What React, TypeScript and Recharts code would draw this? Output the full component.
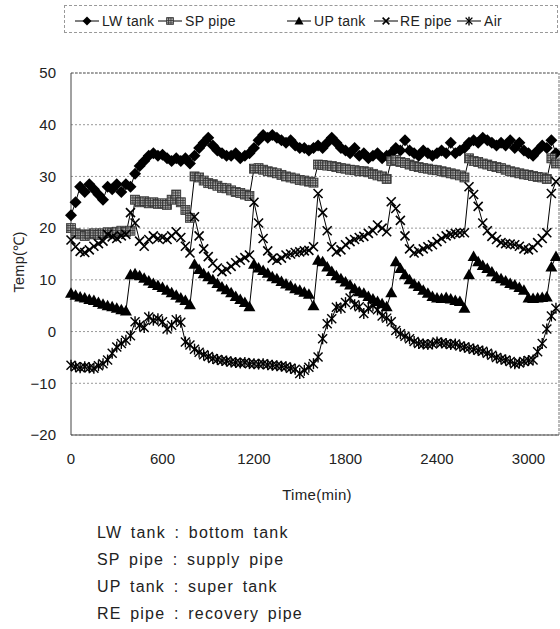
import React from "react";
import {
  LineChart,
  Line,
  XAxis,
  YAxis,
  CartesianGrid,
  ReferenceLine,
} from "recharts";

// sampling grid: one reading every 30 min, 0 .. 3180
const TIMES = Array.from({ length: 107 }, (_, i) => i * 30);
const X_TICKS = [0, 600, 1200, 1800, 2400, 3000];
const Y_TICKS = [-20, -10, 0, 10, 20, 30, 40, 50];

const LW_TANK = [
  22.5, 25, 28, 27, 28.5, 27.5, 26.5, 25.5, 28, 27.5,
  28.5, 27, 28.5, 28, 30.5, 32, 33, 34, 34.5, 34,
  34.2, 33.5, 33, 33.5, 33, 33.5, 32.5, 34, 35.5, 36.5,
  37.5, 36, 35, 34.5, 34, 34, 34.5, 33.5, 34, 34.5,
  35.5, 37, 38, 37.5, 38, 37.5, 37, 36.5, 37, 36,
  35.5, 35.5, 35, 35.5, 36, 35.5, 36.5, 37.5, 36.5, 35.5,
  35, 34.5, 35.5, 34, 34.5, 33.5, 34, 34.5, 33.5, 34,
  34.5, 35.5, 35, 37, 35, 34.5, 34, 35, 34.5, 34,
  34.5, 35, 34.5, 36.5, 34.5, 35, 35.5, 36.5, 37, 36.5,
  37.5, 37, 36.5, 36, 36.5, 36, 37, 35.5, 36.5, 35,
  34.5, 34, 35, 36, 35.5, 37, 34.5,
];

const SP_PIPE = [
  20, 19, 18.8, 18.5, 18.8, 19, 18.7, 19, 19.2, 19,
  19.3, 19.5, 19.3, 19.5, 25.5, 25, 25.2, 24.8, 25, 24.7,
  24.8, 24.5, 25.5, 26.5, 25, 23.5, 22, 30, 29.8, 29.2,
  28.7, 28.5, 28.2, 27.8, 27.7, 27.3, 27, 26.8, 26.5, 26.2,
  31.5, 31.6, 31.3, 31, 30.8, 30.6, 30.3, 30, 29.8, 29.6,
  29.3, 29.2, 29, 28.8, 32.3, 32.2, 32.1, 32, 31.8, 31.6,
  31.5, 31.3, 31.2, 31, 31, 30.8, 30.5, 30.2, 30, 29.5,
  33, 33.2, 32.8, 32.6, 32.3, 32, 31.8, 31.6, 31.5, 31.3,
  31.2, 31, 30.8, 30.6, 30.4, 30.2, 29.8, 33.5, 33, 32.8,
  32.5, 32.3, 32, 31.8, 31.6, 31.3, 31, 30.8, 30.6, 30.4,
  30.3, 30.1, 29.9, 29.8, 29.5, 33.5, 32.5,
];

const UP_TANK = [
  7.4, 7, 6.7, 6.5, 6.2, 6, 5.6, 5.3, 5, 4.8,
  4.5, 4.2, 4, 11, 11.2, 10.8, 10.3, 9.8, 9.3, 8.9,
  8.5, 8, 7.5, 7, 6.5, 6, 5.2, 13, 12, 11.2,
  10.6, 10, 9.3, 8.6, 8.1, 7.5, 6.8, 6.2, 5.6, 4.8,
  13, 12.3, 11.8, 11.3, 10.6, 10.2, 9.7, 9.2, 8.8, 8.3,
  8, 7.6, 7.2, 5, 13.8, 13.5, 12.5, 11.6, 10.8, 10.2,
  9.6, 9, 8.3, 7.7, 7.4, 6.8, 6.3, 5.8, 5.4, 4.8,
  7.5, 13.5, 12.2, 11, 10, 9.2, 8.7, 8, 7.4, 6.8,
  6.5, 6.4, 6.6, 6.3, 6, 5.8, 4.5, 11, 14.5, 13.5,
  12.8, 12.2, 11.5, 10.6, 10.2, 9.8, 9.3, 9, 8.5, 8,
  6.5, 6.4, 6.5, 6.6, 6.7, 12.5, 14.5,
];

const RE_PIPE = [
  17.7, 16.4, 15.5, 15.3, 15.8, 16.5, 17, 17.5, 18.8, 18.3,
  18, 18.5, 18.8, 23, 21, 17.5, 16.5, 17.8, 18.5, 18,
  18.2, 17.8, 18.5, 19.3, 18.2, 16.5, 15.2, 22.2, 18.5, 16,
  14.5, 13.2, 12.3, 11.6, 12, 12.6, 13.3, 13.8, 14.3, 14.8,
  25, 21, 18, 15.6, 14.2, 13.8, 14.2, 14.8, 15, 15.3,
  15.4, 15.6, 15.7, 16.4, 26.7, 23, 19.5, 16.4, 15.4, 15.8,
  16.8, 17.4, 17.8, 18.2, 18.4, 19, 19.5, 20.6, 20, 19.3,
  25.1, 23.8, 21.5, 18.5, 16, 15.2, 15.5, 16, 16.4, 16.8,
  17.4, 18, 18.5, 18.8, 19, 19.1, 19.1, 28, 26.5, 24.2,
  21, 19.5, 18.4, 17.8, 17.2, 17, 16.9, 16.8, 16.5, 16,
  15.8, 16.2, 17.2, 18, 19.1, 26.7, 29,
];

const AIR = [
  -6.5, -6.8, -7, -6.8, -7, -7.1, -6.6, -6.2, -5.5, -4.2,
  -3, -2.3, -1.7, -0.8, 1.9, 1.2, 0.8, 2.8, 2.2, 2.5,
  1.9, 0.5, 1.2, 2.3, 1.8, -2, -2.6, -3.4, -4, -4.5,
  -4.8, -5.2, -5.4, -5.6, -5.7, -5.9, -6, -6.1, -6, -6.2,
  -6.2, -6.3, -6.2, -6.4, -6.5, -6.6, -6.7, -6.8, -7.1, -7.3,
  -8.1, -7.5, -6.9, -6.2, -4.9, -1.4, 1.5, 2.5, 4.7, 4.5,
  5.6, 6.5, 5.2, 4.8, 3.5, 4.5, 5, 4.2, 3, 2.6,
  1.9, 0.2, -0.4, -0.9, -1.4, -1.9, -2.3, -2.4, -2.5, -2.4,
  -2, -2.2, -2.3, -2.5, -2.4, -2.8, -3, -3.2, -3.4, -3.6,
  -3.8, -4.2, -4.6, -5, -5.3, -5.5, -5.8, -6.2, -6.1, -5.8,
  -5.6, -5.5, -3.9, -2.3, 0.5, 3, 4.5,
];

const NOTES = [
  "LW tank : bottom tank",
  "SP pipe : supply pipe",
  "UP tank : super tank",
  "RE pipe : recovery pipe",
];

const data = TIMES.map((t, i) => ({
  t,
  lw: LW_TANK[i],
  sp: SP_PIPE[i],
  up: UP_TANK[i],
  re: RE_PIPE[i],
  air: AIR[i],
}));

const FONT = '"Liberation Sans", Arial, sans-serif';

type Kind = "diamond" | "square" | "triangle" | "cross" | "star";

function Marker({ kind, cx, cy, s = 1 }: { kind: Kind; cx: number; cy: number; s?: number }) {
  if (kind === "diamond") {
    const r = 6 * s;
    return <polygon points={`${cx},${cy - r} ${cx + r},${cy} ${cx},${cy + r} ${cx - r},${cy}`} fill="#000" />;
  }
  if (kind === "square") {
    const h = 4.5 * s;
    return <rect x={cx - h} y={cy - h} width={2 * h} height={2 * h} fill="url(#hatch)" stroke="#333" strokeWidth={0.8} />;
  }
  if (kind === "triangle") {
    const r = 6 * s;
    return <polygon points={`${cx},${cy - r} ${cx + r},${cy + r * 0.75} ${cx - r},${cy + r * 0.75}`} fill="#000" />;
  }
  const d = 4.5 * s;
  if (kind === "cross")
    return (
      <g stroke="#000" strokeWidth={1.6}>
        <line x1={cx - d} y1={cy - d} x2={cx + d} y2={cy + d} />
        <line x1={cx - d} y1={cy + d} x2={cx + d} y2={cy - d} />
      </g>
    );
  return (
    <g stroke="#000" strokeWidth={1.4}>
      <line x1={cx - d} y1={cy - d} x2={cx + d} y2={cy + d} />
      <line x1={cx - d} y1={cy + d} x2={cx + d} y2={cy - d} />
      <line x1={cx} y1={cy - d - 1} x2={cx} y2={cy + d + 1} />
    </g>
  );
}

const dotFor = (kind: Kind, id: string) => (p: any) => {
  if (p.cx == null || p.cy == null) return <g key={`${id}-${p.index}`} />;
  return (
    <g key={`${id}-${p.index}`}>
      <Marker kind={kind} cx={p.cx} cy={p.cy} />
    </g>
  );
};

const SERIES: { key: string; name: string; kind: Kind; lineX: number; textX: number }[] = [
  { key: "lw", name: "LW tank", kind: "diamond", lineX: 75, textX: 102 },
  { key: "sp", name: "SP pipe", kind: "square", lineX: 158, textX: 185 },
  { key: "up", name: "UP tank", kind: "triangle", lineX: 287, textX: 314 },
  { key: "re", name: "RE pipe", kind: "cross", lineX: 374, textX: 400 },
  { key: "air", name: "Air", kind: "star", lineX: 457, textX: 484 },
];

const minus = (v: number) => String(v).replace("-", "\u2212");

export default function App() {
  return (
    <div style={{ position: "absolute", left: 0, top: 0, width: 560, height: 629, background: "#fff", fontFamily: FONT, color: "#222" }}>
      <svg width={0} height={0} style={{ position: "absolute" }}>
        <defs>
          <pattern id="hatch" patternUnits="userSpaceOnUse" width={2.5} height={2.5}>
            <rect width={2.5} height={2.5} fill="#aaa" />
            <path d="M0 0.5 H2.5 M0.5 0 V2.5" stroke="#333" strokeWidth={0.8} />
          </pattern>
        </defs>
      </svg>

      {/* legend box */}
      <div style={{ position: "absolute", left: 64, top: 5, width: 492, height: 26, border: "1px dashed #999" }} />
      {SERIES.map((s) => (
        <React.Fragment key={s.key}>
          <svg style={{ position: "absolute", left: s.lineX, top: 15 }} width={24} height={12}>
            <line x1={0} y1={6} x2={24} y2={6} stroke="#000" strokeWidth={1} />
            <Marker kind={s.kind} cx={12} cy={6} s={0.75} />
          </svg>
          <div style={{ position: "absolute", left: s.textX, top: 12, fontSize: 14, lineHeight: "18px", letterSpacing: 0.3, whiteSpace: "nowrap" }}>
            {s.name}
          </div>
        </React.Fragment>
      ))}

      <div style={{ position: "absolute", left: 0, top: 0 }}>
        <LineChart width={560} height={470} data={data} margin={{ top: 73, right: 1, left: 11, bottom: 5 }}>
          <CartesianGrid vertical={false} stroke="#999" strokeDasharray="2 2" />
          <XAxis
            dataKey="t"
            type="number"
            domain={[0, 3200]}
            ticks={X_TICKS}
            height={30}
            tickLine={false}
            tickSize={6}
            tickMargin={12}
            axisLine={{ stroke: "#444" }}
            tick={{ fontSize: 15, fill: "#222", fontFamily: FONT }}
          />
          <YAxis
            type="number"
            domain={[-20, 50]}
            ticks={Y_TICKS}
            width={60}
            tickLine={false}
            tickSize={6}
            tickMargin={9}
            axisLine={{ stroke: "#444" }}
            tickFormatter={minus}
            tick={{ fontSize: 15, fill: "#222", fontFamily: FONT }}
          />
          <ReferenceLine y={50} stroke="#777" strokeDasharray="3 1" />
          <ReferenceLine x={3200} stroke="#777" strokeDasharray="3 1" />
          {SERIES.map((s) => (
            <Line
              key={s.key}
              dataKey={s.key}
              name={s.name}
              type="linear"
              stroke="#000"
              strokeWidth={1}
              dot={dotFor(s.kind, s.key)}
              activeDot={false}
              isAnimationActive={false}
            />
          ))}
        </LineChart>
      </div>

      <div style={{ position: "absolute", left: 18, top: 262, transform: "translate(-50%, -50%) rotate(-90deg)", fontSize: 14.5, whiteSpace: "nowrap", letterSpacing: 0.3 }}>
        Temp(℃)
      </div>
      <div style={{ position: "absolute", left: 317, top: 494, transform: "translate(-50%, -50%)", fontSize: 15, whiteSpace: "nowrap", letterSpacing: 0.3 }}>
        Time(min)
      </div>
      {NOTES.map((n, i) => (
        <div key={n} style={{ position: "absolute", left: 97, top: 523 + i * 27, fontSize: 16, lineHeight: "20px", letterSpacing: 1.2, wordSpacing: 3, whiteSpace: "nowrap" }}>
          {n}
        </div>
      ))}
    </div>
  );
}
